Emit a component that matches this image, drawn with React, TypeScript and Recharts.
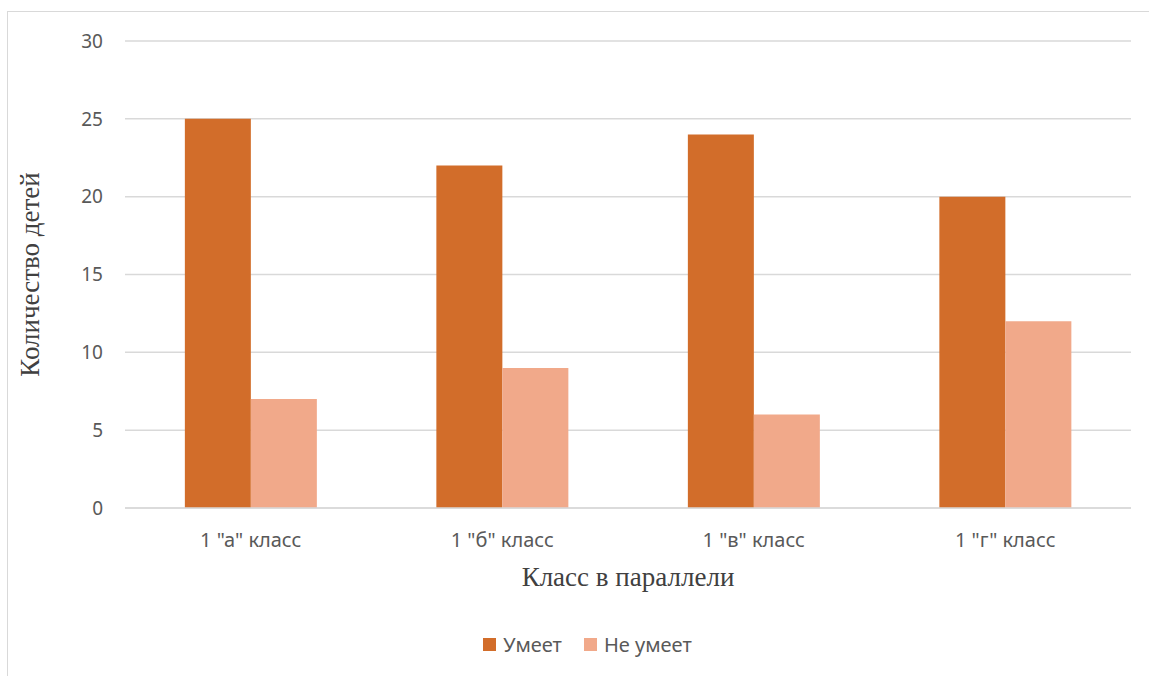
import { BarChart, Bar, XAxis, YAxis, CartesianGrid, Legend } from "recharts";

const classes = ['1 "а" класс', '1 "б" класс', '1 "в" класс', '1 "г" класс'];
const canDo = [25, 22, 24, 20];
const cannotDo = [7, 9, 6, 12];
const yTicks = [0, 5, 10, 15, 20, 25, 30];
const seriesOrder = ["can", "cannot"];

const data = classes.map((name, i) => ({
  name,
  can: canDo[i],
  cannot: cannotDo[i],
}));

const sansFont = "'Noto Sans', sans-serif";
const serifFont = "'Liberation Serif', serif";

const LegendContent = ({ payload }: { payload?: any[] }) => {
  const items = [...(payload || [])].sort(
    (a, b) => seriesOrder.indexOf(a.dataKey) - seriesOrder.indexOf(b.dataKey)
  );
  return (
    <div
      style={{
        display: "flex",
        justifyContent: "center",
        alignItems: "center",
        gap: 22,
        paddingLeft: 44,
        height: 28,
        fontFamily: sansFont,
        fontSize: 20,
        color: "#595959",
      }}
    >
      {items.map((item) => (
        <div key={item.dataKey} style={{ display: "flex", alignItems: "center" }}>
          <span
            style={{
              width: 13,
              height: 13,
              background: item.color,
              display: "inline-block",
              marginRight: 7,
            }}
          />
          <span>{item.value}</span>
        </div>
      ))}
    </div>
  );
};

export default function App() {
  return (
    <div
      style={{
        position: "absolute",
        left: 0,
        top: 0,
        width: 1149,
        height: 676,
        overflow: "hidden",
        background: "#fff",
      }}
    >
      <div
        style={{
          position: "absolute",
          left: 7,
          top: 11,
          width: 1200,
          height: 720,
          border: "1px solid #d9d9d9",
        }}
      />
      <div style={{ position: "absolute", left: 0, top: 0 }}>
        <BarChart
          width={1149}
          height={676}
          data={data}
          margin={{ top: 41, right: 18, bottom: 18, left: 0 }}
          barCategoryGap="23.8%"
          barGap={0}
        >
          <CartesianGrid vertical={false} stroke="#d9d9d9" strokeWidth={1.5} />
          <XAxis
            dataKey="name"
            height={122}
            tickLine={false}
            axisLine={{ stroke: "#d9d9d9", strokeWidth: 1.5 }}
            tickSize={0}
            tickMargin={25}
            tick={{ fill: "#595959", fontSize: 20, fontFamily: sansFont }}
            label={{
              value: "Класс в параллели",
              position: "insideBottom",
              offset: 44,
              style: { fill: "#404040", fontSize: 27, fontFamily: serifFont },
            }}
          />
          <YAxis
            width={125}
            domain={[0, 30]}
            ticks={yTicks}
            tickLine={false}
            axisLine={false}
            tickSize={0}
            tickMargin={22}
            tick={{ fill: "#595959", fontSize: 19, fontFamily: sansFont }}
            label={{
              value: "Количество детей",
              angle: -90,
              position: "insideLeft",
              offset: 29,
              style: {
                textAnchor: "middle",
                fill: "#404040",
                fontSize: 27,
                fontFamily: serifFont,
              },
            }}
          />
          <Legend verticalAlign="bottom" content={<LegendContent />} />
          <Bar dataKey="can" name="Умеет" fill="#d26d2a" isAnimationActive={false} />
          <Bar dataKey="cannot" name="Не умеет" fill="#f1a98a" isAnimationActive={false} />
        </BarChart>
      </div>
    </div>
  );
}
